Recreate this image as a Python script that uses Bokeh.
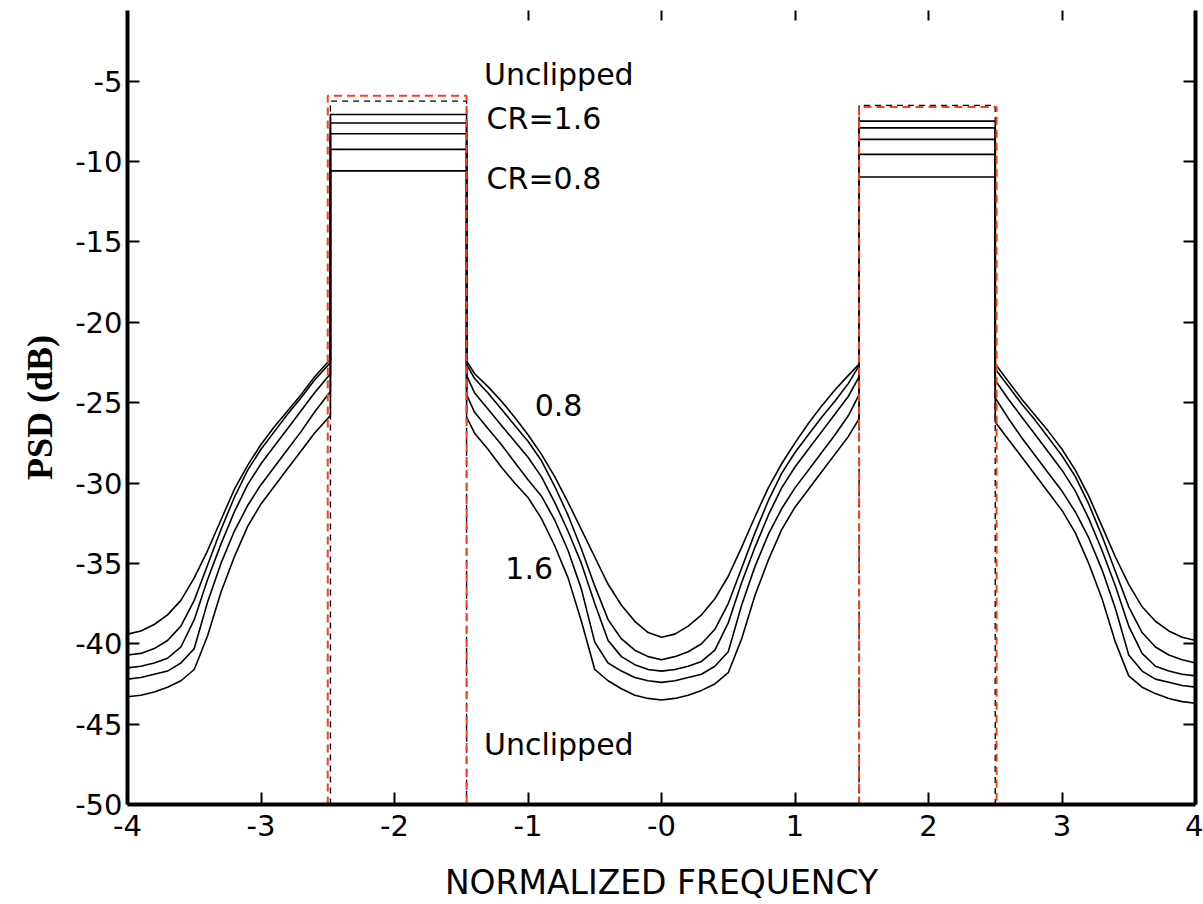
from bokeh.plotting import figure
from bokeh.models import LinearAxis, FixedTicker, Label
from bokeh.embed import file_html
from bokeh.resources import INLINE

# ---------------- data ----------------
freq_left = [-4.0, -3.9, -3.8, -3.7, -3.6, -3.5, -3.4, -3.3, -3.2, -3.1, -3.0,
             -2.9, -2.8, -2.7, -2.6, -2.48]
freq_center = [-1.46, -1.4, -1.3, -1.2, -1.1, -1.0, -0.9, -0.8, -0.7, -0.6, -0.5,
               -0.4, -0.3, -0.2, -0.1, 0.0, 0.1, 0.2, 0.3, 0.4, 0.5, 0.6, 0.7,
               0.8, 0.9, 1.0, 1.1, 1.2, 1.3, 1.4, 1.48]
freq_right = [2.5, 2.6, 2.7, 2.8, 2.9, 3.0, 3.1, 3.2, 3.3, 3.4, 3.5, 3.6, 3.7,
              3.8, 3.9, 4.0]

band_left = [-2.48, -1.46]
band_right = [1.48, 2.5]

clip_ratios = ["0.8", "1.0", "1.2", "1.4", "1.6"]

psd_left = {
    "0.8": [-39.4, -39.2, -38.8, -38.2, -37.3, -35.9, -34.2, -32.3, -30.4, -28.9, -27.6, -26.5, -25.5, -24.5, -23.4, -22.3],
    "1.0": [-40.7, -40.6, -40.3, -39.8, -38.9, -37.3, -35.1, -32.9, -30.9, -29.2, -27.9, -26.8, -25.7, -24.7, -23.6, -22.5],
    "1.2": [-41.5, -41.4, -41.2, -40.9, -40.2, -38.5, -36.0, -33.8, -31.8, -30.1, -28.8, -27.7, -26.6, -25.5, -24.4, -23.2],
    "1.4": [-42.2, -42.1, -41.9, -41.7, -41.2, -40.3, -37.4, -35.0, -33.0, -31.4, -30.1, -29.0, -27.9, -26.8, -25.6, -24.3],
    "1.6": [-43.3, -43.2, -43.0, -42.7, -42.3, -41.6, -39.5, -36.8, -34.6, -32.7, -31.3, -30.2, -29.1, -28.0, -26.9, -25.8],
}

psd_center = {
    "0.8": [-22.4, -23.2, -24.0, -24.9, -25.9, -27.0, -28.2, -29.6, -31.2, -32.9, -34.6, -36.3, -37.6, -38.6, -39.3, -39.6,
            -39.4, -38.9, -38.2, -37.2, -35.8, -34.0, -32.1, -30.3, -28.8, -27.5, -26.3, -25.2, -24.2, -23.3, -22.6],
    "1.0": [-22.6, -23.5, -24.4, -25.4, -26.4, -27.4, -28.6, -30.2, -32.0, -34.1, -36.4, -38.5, -39.7, -40.4, -40.8, -41.0,
            -40.8, -40.5, -40.0, -39.1, -37.5, -35.3, -33.1, -31.1, -29.4, -28.1, -27.0, -25.9, -24.9, -23.8, -22.7],
    "1.2": [-23.3, -24.4, -25.4, -26.4, -27.4, -28.4, -29.6, -31.2, -33.0, -35.0, -37.5, -39.8, -40.8, -41.3, -41.6, -41.7,
            -41.6, -41.4, -41.1, -40.4, -38.7, -36.2, -34.0, -32.0, -30.3, -29.0, -27.9, -26.8, -25.7, -24.6, -23.4],
    "1.4": [-24.5, -25.6, -26.6, -27.6, -28.7, -29.8, -30.8, -32.3, -34.2, -36.6, -39.9, -41.2, -41.7, -42.1, -42.3, -42.4,
            -42.3, -42.1, -41.9, -41.4, -40.5, -37.6, -35.2, -33.2, -31.6, -30.3, -29.2, -28.1, -27.0, -25.8, -24.5],
    "1.6": [-25.9, -26.9, -27.9, -29.0, -30.0, -30.9, -32.2, -33.9, -35.9, -38.6, -41.6, -42.3, -42.8, -43.2, -43.4, -43.5,
            -43.4, -43.2, -42.9, -42.5, -41.8, -39.7, -37.0, -34.8, -32.9, -31.5, -30.4, -29.3, -28.2, -27.1, -26.0],
}

psd_right = {
    "0.8": [-22.6, -23.7, -24.8, -25.8, -26.8, -27.9, -29.2, -30.8, -32.7, -34.6, -36.3, -37.7, -38.6, -39.2, -39.6, -39.8],
    "1.0": [-22.9, -24.0, -25.1, -26.1, -27.2, -28.3, -29.6, -31.3, -33.3, -35.5, -37.7, -39.3, -40.2, -40.7, -41.0, -41.2],
    "1.2": [-23.6, -24.8, -25.9, -27.0, -28.1, -29.2, -30.5, -32.2, -34.2, -36.4, -38.9, -40.6, -41.4, -41.7, -41.9, -42.0],
    "1.4": [-24.7, -26.0, -27.2, -28.3, -29.4, -30.5, -31.8, -33.4, -35.4, -37.8, -40.7, -41.7, -42.2, -42.4, -42.6, -42.7],
    "1.6": [-26.2, -27.3, -28.4, -29.5, -30.6, -31.7, -33.1, -35.0, -37.2, -39.9, -42.0, -42.7, -43.1, -43.4, -43.6, -43.7],
}

inband_left = {"0.8": -10.58, "1.0": -9.24, "1.2": -8.27, "1.4": -7.60, "1.6": -7.07}
inband_right = {"0.8": -10.96, "1.0": -9.55, "1.2": -8.62, "1.4": -7.90, "1.6": -7.48}

unclipped_level = [-6.24, -6.50]
psd_floor = -50.0

mask_left = [-2.5, -1.46]
mask_right = [1.48, 2.51]
mask_top = [-5.9, -6.6]

x_ticks = [-4, -3, -2, -1, 0, 1, 2, 3, 4]
x_tick_labels = ["-4", "-3", "-2", "-1", "-0", "1", "2", "3", "4"]
y_ticks = [-50, -45, -40, -35, -30, -25, -20, -15, -10, -5]
y_tick_labels = ["-50", "-45", "-40", "-35", "-30", "-25", "-20", "-15", "-10", "-5"]
top_ticks = [-1, 0, 1, 2, 3]

# ---------------- figure ----------------
p = figure(width=1203, height=904, x_range=(-4, 4), y_range=(-50, -0.6),
           output_backend="svg", toolbar_location=None,
           min_border_left=127, min_border_right=8, min_border_top=10,
           min_border_bottom=98, background_fill_color="white",
           border_fill_color="white")
p.outline_line_color = None
p.xgrid.visible = False
p.ygrid.visible = False

FONT = "DejaVu Sans"

def style_axis(ax):
    ax.axis_line_width = 4
    ax.axis_line_color = "black"
    ax.major_tick_line_width = 2
    ax.major_tick_line_color = "black"
    ax.major_tick_in = 12
    ax.major_tick_out = 0
    ax.minor_tick_line_color = None
    ax.major_label_text_font = FONT
    ax.major_label_text_font_size = "29px"
    ax.major_label_text_color = "black"

p.xaxis.ticker = FixedTicker(ticks=x_ticks)
p.xaxis.major_label_overrides = dict(zip(x_ticks, x_tick_labels))
p.yaxis.ticker = FixedTicker(ticks=y_ticks)
p.yaxis.major_label_overrides = dict(zip(y_ticks, y_tick_labels))
style_axis(p.xaxis[0])
style_axis(p.yaxis[0])
p.xaxis.major_label_standoff = 10
p.yaxis.major_label_standoff = 5

p.xaxis.axis_label = "NORMALIZED FREQUENCY"
p.xaxis.axis_label_text_font = FONT
p.xaxis.axis_label_text_font_size = "33px"
p.xaxis.axis_label_text_font_style = "normal"
p.xaxis.axis_label_standoff = 24
p.xaxis.axis_label_text_color = "black"

p.yaxis.axis_label = "PSD (dB)"
p.yaxis.axis_label_text_font = "Liberation Serif"
p.yaxis.axis_label_text_font_size = "36px"
p.yaxis.axis_label_text_font_style = "bold"
p.yaxis.axis_label_standoff = 12
p.yaxis.axis_label_text_color = "black"

right_axis = LinearAxis(ticker=FixedTicker(ticks=y_ticks))
style_axis(right_axis)
right_axis.major_label_overrides = {t: "" for t in y_ticks}
right_axis.major_label_text_font_size = "1px"
right_axis.major_label_standoff = 0
p.add_layout(right_axis, "right")

top_axis = LinearAxis(ticker=FixedTicker(ticks=top_ticks))
style_axis(top_axis)
top_axis.axis_line_color = None
top_axis.major_tick_in = 10
top_axis.major_label_overrides = {t: "" for t in top_ticks}
top_axis.major_label_text_font_size = "1px"
top_axis.major_label_standoff = 0
p.add_layout(top_axis, "above")

# ---------------- curves ----------------
for cr in clip_ratios:
    xs = (freq_left + band_left + freq_center + band_right + freq_right)
    ys = (psd_left[cr] + [inband_left[cr], inband_left[cr]] + psd_center[cr]
          + [inband_right[cr], inband_right[cr]] + psd_right[cr])
    p.line(xs, ys, line_color="black", line_width=1.6)

# unclipped (brick-wall) spectrum
for band, lvl in ((band_left, unclipped_level[0]), (band_right, unclipped_level[1])):
    p.line([band[0], band[0], band[1], band[1]], [psd_floor, lvl, lvl, psd_floor],
           line_color="black", line_width=1.4, line_dash="6 5")

# red dashed frames
for m, top in ((mask_left, mask_top[0]), (mask_right, mask_top[1])):
    p.line([m[0], m[0], m[1], m[1]], [psd_floor, top, top, psd_floor],
           line_color="#ff3c1e", line_width=2, line_dash="8 5")

# ---------------- annotations ----------------
def lab(x, y, t):
    p.add_layout(Label(x=x, y=y, text=t, text_font=FONT, text_font_size="30px",
                       text_baseline="middle", text_align="left",
                       text_color="black"))

lab(-1.33, -4.56, "Unclipped")
lab(-1.31, -7.3, "CR=1.6")
lab(-1.31, -11.08, "CR=0.8")
lab(-0.95, -25.16, "0.8")
lab(-1.17, -35.27, "1.6")
lab(-1.33, -46.25, "Unclipped")

open("out.html", "w").write(file_html(p, INLINE))
